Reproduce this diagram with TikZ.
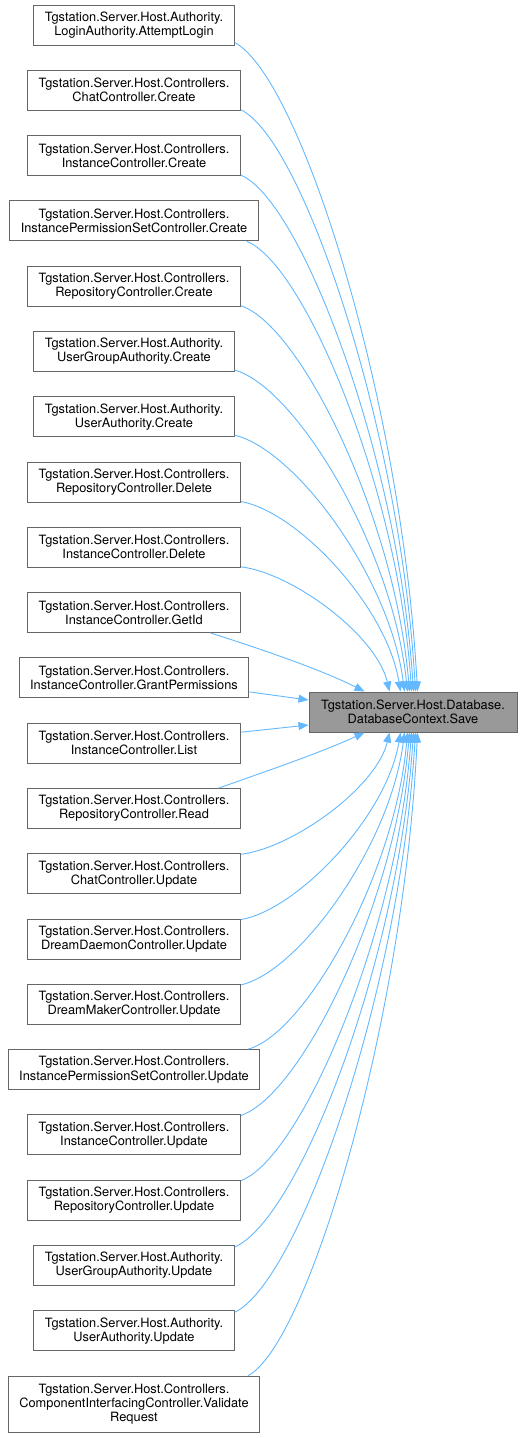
\documentclass[tikz,border=0pt]{standalone}
\usepackage{fontspec}
\setmainfont{TeX Gyre Heros}
\usetikzlibrary{arrows.meta,calc}
\definecolor{edgeblue}{HTML}{63B8FF}
\definecolor{boxgrey}{HTML}{666666}
\definecolor{targetfill}{HTML}{999999}
\tikzset{
  fnbox/.style={draw=boxgrey, line width=1pt, fill=white, align=center,
    minimum height=40pt, inner xsep=11pt, inner ysep=0pt,
    font=\fontsize{12.8}{14}\selectfont},
  tgtbox/.style={fnbox, fill=targetfill, minimum width=208pt},
  calledge/.style={draw=edgeblue, line width=0.9pt,
    -{Triangle[length=10pt,width=8pt,fill=edgeblue]}}
}
\begin{document}
\begin{tikzpicture}[x=1pt,y=-1pt]
\useasboundingbox (0,0) rectangle (523,1438);
% target
\node[tgtbox] (t) at (413,712) {Tgstation.Server.Host.Database.\\DatabaseContext.Save};
% callers
\node[fnbox] (n0) at (134,25.0) {Tgstation.Server.Host.Authority.\\LoginAuthority.AttemptLogin};
\node[fnbox] (n1) at (134,90.3) {Tgstation.Server.Host.Controllers.\\ChatController.Create};
\node[fnbox] (n2) at (134,155.6) {Tgstation.Server.Host.Controllers.\\InstanceController.Create};
\node[fnbox] (n3) at (134,220.9) {Tgstation.Server.Host.Controllers.\\InstancePermissionSetController.Create};
\node[fnbox] (n4) at (134,286.2) {Tgstation.Server.Host.Controllers.\\RepositoryController.Create};
\node[fnbox] (n5) at (134,351.5) {Tgstation.Server.Host.Authority.\\UserGroupAuthority.Create};
\node[fnbox] (n6) at (134,416.7) {Tgstation.Server.Host.Authority.\\UserAuthority.Create};
\node[fnbox] (n7) at (134,482.0) {Tgstation.Server.Host.Controllers.\\RepositoryController.Delete};
\node[fnbox] (n8) at (134,547.3) {Tgstation.Server.Host.Controllers.\\InstanceController.Delete};
\node[fnbox] (n9) at (134,612.6) {Tgstation.Server.Host.Controllers.\\InstanceController.GetId};
\node[fnbox] (n10) at (134,677.9) {Tgstation.Server.Host.Controllers.\\InstanceController.GrantPermissions};
\node[fnbox] (n11) at (134,743.2) {Tgstation.Server.Host.Controllers.\\InstanceController.List};
\node[fnbox] (n12) at (134,808.5) {Tgstation.Server.Host.Controllers.\\RepositoryController.Read};
\node[fnbox] (n13) at (134,873.8) {Tgstation.Server.Host.Controllers.\\ChatController.Update};
\node[fnbox] (n14) at (134,939.1) {Tgstation.Server.Host.Controllers.\\DreamDaemonController.Update};
\node[fnbox] (n15) at (134,1004.4) {Tgstation.Server.Host.Controllers.\\DreamMakerController.Update};
\node[fnbox] (n16) at (134,1069.6) {Tgstation.Server.Host.Controllers.\\InstancePermissionSetController.Update};
\node[fnbox] (n17) at (134,1134.9) {Tgstation.Server.Host.Controllers.\\InstanceController.Update};
\node[fnbox] (n18) at (134,1200.2) {Tgstation.Server.Host.Controllers.\\RepositoryController.Update};
\node[fnbox] (n19) at (134,1265.5) {Tgstation.Server.Host.Authority.\\UserGroupAuthority.Update};
\node[fnbox] (n20) at (134,1330.8) {Tgstation.Server.Host.Authority.\\UserAuthority.Update};
\node[fnbox, minimum height=56pt] (n21) at (134,1404.1) {Tgstation.Server.Host.Controllers.\\ComponentInterfacingController.Validate\\Request};
% edges from above
\draw[calledge] ($(n0.south east)+(0,-3)$) .. controls (300.4,77.4) and (401.7,400.9) .. ($(t.north west)+(109,0)$);
\draw[calledge] ($(n1.south east)+(0,-1)$) .. controls (302.9,139.4) and (400.3,430.2) .. ($(t.north west)+(107,0)$);
\draw[calledge] ($(n2.south east)+(0,-1)$) .. controls (302.2,201.4) and (398.5,459.6) .. ($(t.north west)+(105,0)$);
\draw[calledge] ($(n3.south east)+(-12,0)$) .. controls (304,263.5) and (398.4,489.0) .. ($(t.north west)+(103,0)$);
\draw[calledge] ($(n4.south east)+(0,-1)$) .. controls (300.8,325.5) and (394.9,518.4) .. ($(t.north west)+(101,0)$);
\draw[calledge] ($(n5.south east)+(0,-2)$) .. controls (296.2,387.5) and (392.5,547.8) .. ($(t.north west)+(99,0)$);
\draw[calledge] ($(n6.south east)+(0,-2)$) .. controls (295.2,449.5) and (389.8,577.1) .. ($(t.north west)+(96,0)$);
\draw[calledge] ($(n7.south east)+(0,-1)$) .. controls (297.7,511.5) and (386.7,606.5) .. ($(t.north west)+(92,0)$);
\draw[calledge] ($(n8.south east)+(0,-1)$) .. controls (293.8,573.5) and (376.7,635.9) .. ($(t.north west)+(81,0)$);
\draw[calledge] ($(n9.south east)+(-30,0)$) .. controls (264,650) and (322,670) .. ($(t.north west)+(56,0)$);
\draw[calledge] ($(n10.east)+(0,14)$) -- ($(t.west)+(0,-12)$);
\draw[calledge] ($(n11.east)+(0,-11)$) -- ($(t.west)+(0,13)$);
% edges from below
\draw[calledge] ($(n12.north east)+(-22,0)$) .. controls (270,770) and (322,752) .. ($(t.south west)+(56,0)$);
\draw[calledge] ($(n13.north east)+(0,1)$) .. controls (293.8,847.7) and (376.7,786.8) .. ($(t.south west)+(81,0)$);
\draw[calledge] ($(n14.north east)+(0,1)$) .. controls (297.7,909.7) and (386.7,816.2) .. ($(t.south west)+(92,0)$);
\draw[calledge] ($(n15.north east)+(0,1)$) .. controls (299.1,971.8) and (390.3,845.6) .. ($(t.south west)+(96,0)$);
\draw[calledge] ($(n16.north east)+(-12,0)$) .. controls (305,1033.7) and (395.0,874.9) .. ($(t.south west)+(99,0)$);
\draw[calledge] ($(n17.north east)+(0,1)$) .. controls (300.8,1095.8) and (394.9,904.3) .. ($(t.south west)+(101,0)$);
\draw[calledge] ($(n18.north east)+(0,1)$) .. controls (301.5,1157.8) and (396.7,933.7) .. ($(t.south west)+(103,0)$);
\draw[calledge] ($(n19.north east)+(0,2)$) .. controls (298.3,1219.8) and (398.0,963.1) .. ($(t.south west)+(105,0)$);
\draw[calledge] ($(n20.north east)+(0,2)$) .. controls (299,1281.9) and (399.8,992.5) .. ($(t.south west)+(107,0)$);
\draw[calledge] ($(n21.north east)+(-12,0)$) .. controls (308,1343.9) and (403.8,1021.9) .. ($(t.south west)+(109,0)$);
\end{tikzpicture}
\end{document}
